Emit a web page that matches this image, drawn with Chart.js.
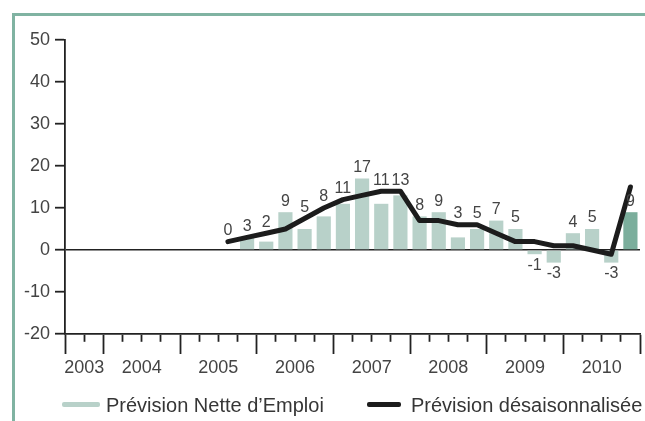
<!DOCTYPE html>
<html lang="fr">
<head>
<meta charset="utf-8">
<title>Prévision Nette d'Emploi</title>
<script src="https://cdn.jsdelivr.net/npm/chart.js@4/dist/chart.umd.min.js"></script>
<style>
    html, body { margin: 0; padding: 0; background: #fff; overflow: hidden; }
    #wrap { position: relative; width: 645px; height: 421px; overflow: hidden; }
    #frame {
        position: absolute; left: 12px; top: 13px; right: -10px; bottom: -10px;
        border-top: 3px solid #80b3a2; border-left: 3px solid #80b3a2;
        pointer-events: none;
    }
    .leg { position: absolute; top: 394px; height: 20px; line-height: 20px;
           font: 20px 'Liberation Sans', Arial, sans-serif; color: #363636; white-space: nowrap; }
    .swatch { position: absolute; border-radius: 2px; }
</style>
</head>
<body>
<div id="wrap">
    <canvas id="chart" width="645" height="421"></canvas>
    <div id="frame"></div>
    <div class="swatch" id="sw-net" style="left:62px; top:402px; width:38px; height:5px;"></div>
    <div class="leg" id="lg-net" style="left:106px;"></div>
    <div class="swatch" id="sw-des" style="left:367px; top:402px; width:34px; height:5px;"></div>
    <div class="leg" id="lg-des" style="left:411px;"></div>
</div>
<script>
// Quarters (T = trimestre)
const quarters = [
    'T3 2003', 'T4 2003',
    'T1 2004', 'T2 2004', 'T3 2004', 'T4 2004',
    'T1 2005', 'T2 2005', 'T3 2005', 'T4 2005',
    'T1 2006', 'T2 2006', 'T3 2006', 'T4 2006',
    'T1 2007', 'T2 2007', 'T3 2007', 'T4 2007',
    'T1 2008', 'T2 2008', 'T3 2008', 'T4 2008',
    'T1 2009', 'T2 2009', 'T3 2009', 'T4 2009',
    'T1 2010', 'T2 2010', 'T3 2010', 'T4 2010'
];

// Prévision Nette d'Emploi (bars)
const netEmploi = [
    null, null,
    null, null, null, null,
    null, null, 0, 3,
    2, 9, 5, 8,
    11, 17, 11, 13,
    8, 9, 3, 5,
    7, 5, -1, -3,
    4, 5, -3, 9
];

// Prévision désaisonnalisée (line)
const desaison = [
    null, null,
    null, null, null, null,
    null, null, 2, 3,
    4, 5, 7.5, 10,
    12, 13, 14, 14,
    7, 7, 6, 6,
    4, 2, 2, 1,
    1, 0, -1, 15
];

const yTicks = [-20, -10, 0, 10, 20, 30, 40, 50];

const labelNet = 'Prévision Nette d\u2019Emploi';
const labelDes = 'Prévision désaisonnalisée';

const COL_BAR = '#b8d1c9';
const COL_BAR_LAST = '#7bae9c';
const COL_LINE = '#1c1c1c';
const COL_AXIS = '#222222';
const COL_TEXT = '#444444';
const FONT = "'Liberation Sans', Arial, sans-serif";

const yearOf = q => q.split(' ')[1];

// index where a year's label sits (centred over the year with labelOffset)
const yearLabelIdx = {};
quarters.forEach((q, i) => {
    const y = yearOf(q);
    if (!(y in yearLabelIdx)) {
        const count = quarters.filter(v => yearOf(v) === y).length;
        yearLabelIdx[y] = i + Math.floor(count / 2);
    }
});
const isYearStart = i => i === 0 || yearOf(quarters[i]) !== yearOf(quarters[i - 1]);

// colour of each bar: last one highlighted
const barColors = netEmploi.map((v, i) => i === netEmploi.length - 1 ? COL_BAR_LAST : COL_BAR);

// value labels above / below bars
const valueLabels = {
    id: 'valueLabels',
    afterDatasetsDraw(chart) {
        const ctx = chart.ctx;
        const barMeta = chart.getDatasetMeta(1);
        const lineMeta = chart.getDatasetMeta(0);
        ctx.save();
        ctx.font = '16px ' + FONT;
        ctx.fillStyle = COL_TEXT;
        ctx.textAlign = 'center';
        ctx.textBaseline = 'middle';
        netEmploi.forEach((v, i) => {
            if (v === null) return;
            const bar = barMeta.data[i];
            const pt = lineMeta.data[i];
            let y = bar.y;
            if (v >= 0) {
                if (desaison[i] !== null && pt.y < y && y - pt.y < 20) y = pt.y;
                y -= 11;
            } else {
                if (desaison[i] !== null && pt.y > y && pt.y - y < 20) y = pt.y;
                y += 11;
            }
            ctx.fillText(String(v), bar.x, y);
        });
        ctx.restore();
    }
};

const chart = new Chart(document.getElementById('chart').getContext('2d'), {
    type: 'bar',
    data: {
        labels: quarters,
        datasets: [
            {
                type: 'line',
                label: labelDes,
                data: desaison,
                borderColor: COL_LINE,
                borderWidth: 5,
                borderJoinStyle: 'round',
                borderCapStyle: 'round',
                pointRadius: 0,
                tension: 0,
                order: 0
            },
            {
                type: 'bar',
                label: labelNet,
                data: netEmploi,
                backgroundColor: barColors,
                borderWidth: 0,
                categoryPercentage: 1,
                barPercentage: 0.74,
                order: 1
            }
        ]
    },
    options: {
        responsive: false,
        animation: false,
        layout: { padding: { top: 40, right: 5, left: 0, bottom: 0 } },
        plugins: {
            legend: { display: false },
            tooltip: { enabled: false }
        },
        scales: {
            x: {
                offset: true,
                afterFit: s => { s.height = 87; },
                border: { display: true, color: COL_AXIS, width: 1.8 },
                grid: {
                    offset: true,
                    drawOnChartArea: false,
                    tickLength: 20,
                    tickWidth: 1.8,
                    tickColor: COL_AXIS,
                    tickBorderDash: c => (c.index === undefined || isYearStart(c.index)) ? [] : [7, 100]
                },
                ticks: {
                    autoSkip: false,
                    maxRotation: 0,
                    padding: 3,
                    labelOffset: -9.58,
                    color: COL_TEXT,
                    font: { family: FONT, size: 18 },
                    callback: (val, i) => yearLabelIdx[yearOf(quarters[i])] === i ? yearOf(quarters[i]) : ''
                }
            },
            y: {
                min: -20,
                max: 50,
                afterFit: s => { s.width = 65; },
                afterBuildTicks: s => { s.ticks = yTicks.map(v => ({ value: v })); },
                border: { display: true, color: COL_AXIS, width: 1.8 },
                grid: {
                    drawOnChartArea: true,
                    color: c => c.tick && c.tick.value === 0 ? COL_AXIS : 'rgba(0,0,0,0)',
                    lineWidth: 1.4,
                    tickLength: 10,
                    tickWidth: 1.8,
                    tickColor: COL_AXIS
                },
                ticks: {
                    padding: 5,
                    color: COL_TEXT,
                    font: { family: FONT, size: 18 }
                }
            }
        }
    },
    plugins: [valueLabels]
});

// HTML legend built from the dataset labels / colours
document.getElementById('sw-net').style.background = COL_BAR;
document.getElementById('lg-net').textContent = chart.data.datasets[1].label;
document.getElementById('sw-des').style.background = COL_LINE;
document.getElementById('lg-des').textContent = chart.data.datasets[0].label;
</script>
</body>
</html>
